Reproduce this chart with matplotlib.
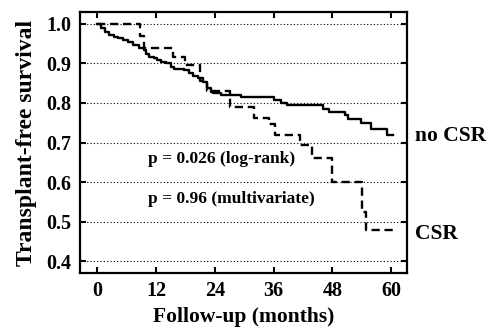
import matplotlib
matplotlib.use('Agg')
import matplotlib.pyplot as plt

# Kaplan-Meier step data (months, survival)
no_csr_t = [0, 0.8, 1.5, 2.5, 3.5, 4.2, 5.2, 6.2, 7.3, 8.6, 9.6, 10.0, 10.6, 11.6,
            12.3, 13.0, 14.0, 15.0, 15.7, 17.7, 18.8, 19.5, 20.5, 21.5, 22.5, 23.3,
            23.7, 25.2, 29.3, 36.0, 37.4, 38.8, 46.0, 47.2, 50.6, 51.2, 53.9, 55.9,
            59.1, 60.4]
no_csr_s = [1.0, 0.99, 0.98, 0.972, 0.968, 0.964, 0.959, 0.955, 0.947, 0.938, 0.934,
            0.925, 0.917, 0.913, 0.908, 0.904, 0.9, 0.891, 0.887, 0.883, 0.875, 0.868,
            0.862, 0.853, 0.837, 0.828, 0.824, 0.82, 0.815, 0.807, 0.80, 0.794, 0.786,
            0.777, 0.77, 0.76, 0.75, 0.735, 0.718, 0.718]

csr_t = [0, 8.7, 9.5, 15.5, 18.0, 21.0, 22.5, 27.0, 32.0, 35.0, 36.3, 41.3, 43.9,
         48.0, 54.1, 54.9, 60.4]
csr_s = [1.0, 0.97, 0.94, 0.915, 0.895, 0.855, 0.83, 0.79, 0.763, 0.748, 0.72,
         0.695, 0.66, 0.60, 0.525, 0.48, 0.48]

x_ticks = [0, 12, 24, 36, 48, 60]
y_ticks = [0.4, 0.5, 0.6, 0.7, 0.8, 0.9, 1.0]

plt.rcParams['font.family'] = 'Liberation Serif'
plt.rcParams['font.weight'] = 'bold'

fig = plt.figure(figsize=(4.88, 3.29), dpi=100)
ax = fig.add_axes([0.164, 0.170, 0.670, 0.7935])

# dotted horizontal guide lines
for y in y_ticks:
    ax.axhline(y, color='black', linestyle=(0, (1, 2)), linewidth=0.8, zorder=1)

ax.step(no_csr_t, no_csr_s, where='post', color='black', linewidth=1.7, zorder=3)
ax.step(csr_t, csr_s, where='post', color='black', linewidth=1.7,
        linestyle=(0, (3.5, 2)), zorder=3)

ax.set_xlim(-3.5, 63.2)
ax.set_ylim(0.37, 1.03)
ax.set_xticks(x_ticks)
ax.set_yticks(y_ticks)
ax.set_yticklabels(['%.1f' % v for v in y_ticks])
ax.tick_params(direction='in', length=4, width=1.5, labelsize=14.5,
               top=True, right=True, pad=6)
for s in ax.spines.values():
    s.set_linewidth(1.6)

ax.set_xlabel('Follow-up (months)', fontsize=15.5, fontweight='bold', labelpad=4)
ax.set_ylabel('Transplant-free survival', fontsize=17, fontweight='bold', labelpad=7)

ax.text(10.4, 0.659, 'p = 0.026 (log-rank)', fontsize=12.5, fontweight='bold',
        va='center', ha='left')
ax.text(10.4, 0.557, 'p = 0.96 (multivariate)', fontsize=12.5, fontweight='bold',
        va='center', ha='left')
ax.text(64.8, 0.717, 'no CSR', fontsize=15.5, fontweight='bold',
        va='center', ha='left', clip_on=False)
ax.text(64.8, 0.47, 'CSR', fontsize=15.5, fontweight='bold',
        va='center', ha='left', clip_on=False)

fig.savefig('out.png', dpi=100)
